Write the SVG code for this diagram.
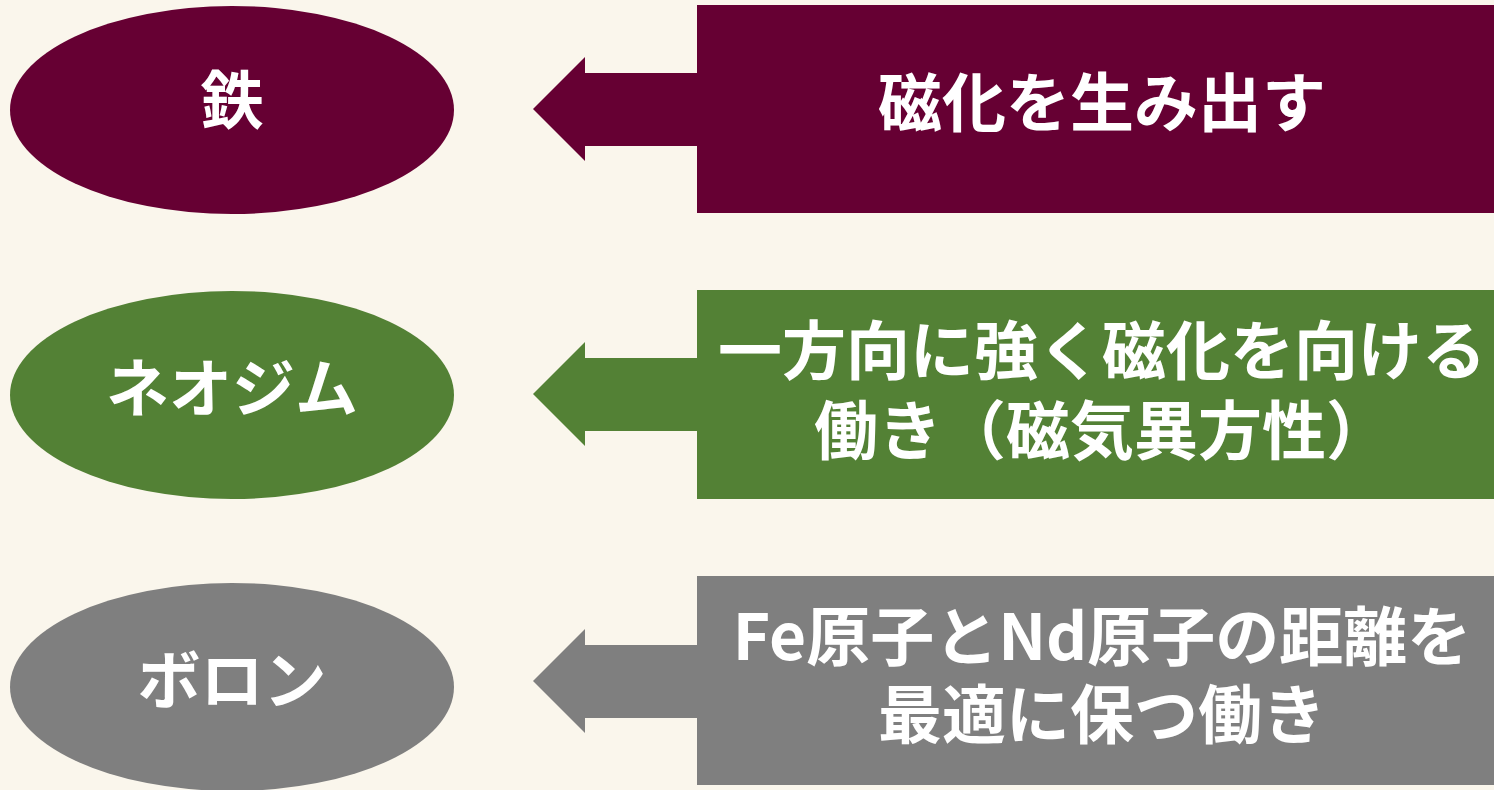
<svg xmlns="http://www.w3.org/2000/svg" width="1494" height="790" viewBox="0 0 1494 790">
<style>
.t{font-family:"Noto Sans CJK JP","Noto Sans",sans-serif;font-weight:bold;font-size:63px;fill:#FFFFFF;text-anchor:middle}
.b{font-size:64px}
.m{fill:#660033}.g{fill:#538135}.y{fill:#7F7F7F}
</style>
<rect x="0" y="0" width="1494" height="790" fill="#FAF6EC"/>
<g id="node-iron"><ellipse class="m" cx="232" cy="110" rx="222" ry="104"/><text class="t" x="232" y="123">鉄</text></g>
<g id="node-neodymium"><ellipse class="g" cx="232" cy="395" rx="222" ry="104"/><text class="t" x="232" y="411">ネオジム</text></g>
<g id="node-boron"><ellipse class="y" cx="232" cy="687" rx="222" ry="104"/><text class="t" x="232" y="703">ボロン</text></g>
<g id="box-iron"><rect class="m" x="697" y="5" width="815" height="208"/><text class="t b" x="1102" y="126">磁化を生み出す</text></g>
<g id="box-neodymium"><rect class="g" x="697" y="290" width="815" height="209"/><text class="t b" x="1102" y="374">一方向に強く磁化を向ける</text><text class="t b" x="1102" y="454">働き（磁気異方性）</text></g>
<g id="box-boron"><rect class="y" x="697" y="576" width="815" height="209"/><text class="t b" x="1102" y="660">Fe原子とNd原子の距離を</text><text class="t b" x="1102" y="738">最適に保つ働き</text></g>
<g id="connectors">
<polygon class="m" points="533,109 585,57 585,73 698,73 698,146 585,146 585,161"/>
<polygon class="g" points="533,394 585,342 585,358 698,358 698,431 585,431 585,446"/>
<polygon class="y" points="533,681 585,629 585,645 698,645 698,718 585,718 585,733"/>
</g>
</svg>
